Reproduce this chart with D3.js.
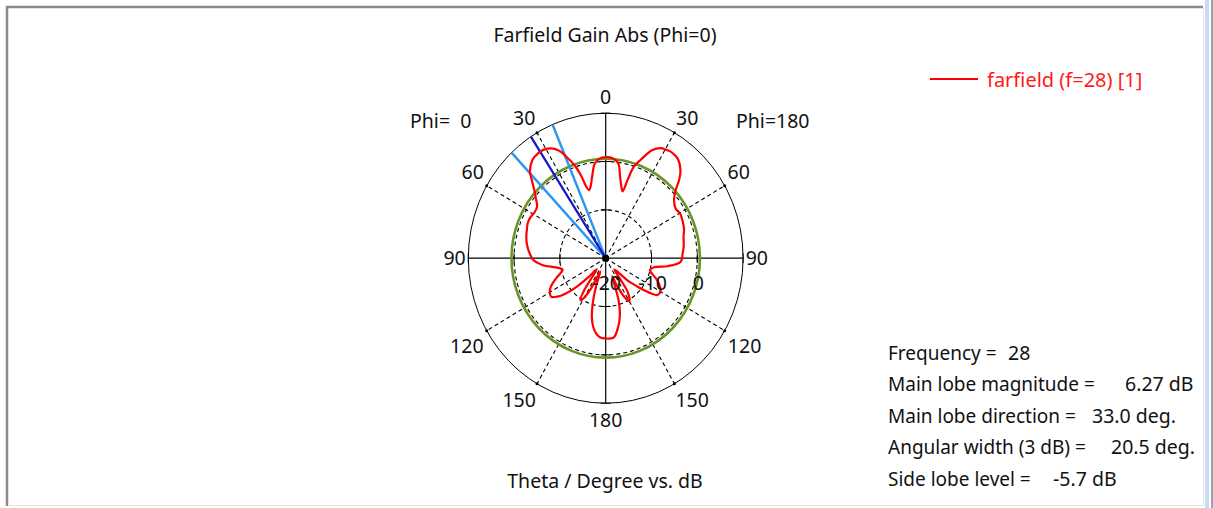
<!DOCTYPE html>
<html>
<head>
<meta charset="utf-8">
<script src="https://cdn.jsdelivr.net/npm/d3@7"></script>
<style>
html,body{margin:0;padding:0;background:#fff;}
svg{display:block;}
text{font-family:'Noto Sans','DejaVu Sans',sans-serif;font-size:19.5px;fill:#111;}
</style>
</head>
<body>
<svg id="chart" width="1213" height="508"></svg>
<script>
// ---------------- data ----------------
const chartTitle = "Farfield Gain Abs (Phi=0)";
const axisTitle = "Theta / Degree vs. dB";
const legendLabel = "farfield (f=28) [1]";
const sideLabels = ["Phi=  0", "Phi=180"];
const angleTicks = [0, 30, 60, 90, 120, 150, 180];
const dbTicks = [-20, -10, 0];
const dbDomain = [-20, 10];

// phi = 0 half (drawn on the left), theta in degrees, gain in dB
const thetaPhi0 = [0, 4, 7, 10, 12.5, 14.5, 16, 17.5, 19.5, 22.5, 24.5, 27.5, 31, 33, 35, 38, 42.5, 45, 48.5, 51, 54.5, 58.5, 63, 67, 71, 75.5, 80, 84, 88, 91, 96, 100, 104, 108, 111, 116, 120, 124, 127, 129, 133, 136, 139, 142, 145, 147.5, 150, 153, 157, 160, 162.5, 166, 169, 172, 175.5, 180];
const gainPhi0  = [0.9, 0.6, -0.3, -2.9, -4.8, -5.5, -4.6, -2.0, 0.4, 2.9, 4.4, 5.6, 6.2, 6.27, 6.2, 5.9, 4.5, 2.8, 0.7, -0.4, -1.6, -1.8, -1.5, -1.5, -1.8, -2.1, -2.5, -3.0, -3.6, -4.1, -6.2, -9.0, -10.3, -9.5, -8.4, -6.7, -5.9, -5.7, -6.8, -7.9, -11.3, -14.5, -17.0, -16.0, -11.5, -9.7, -10.5, -13.0, -17.0, -14.0, -11.0, -7.5, -5.6, -4.4, -3.6, -3.4];

// phi = 180 half (drawn on the right)
const thetaPhi180 = [0, 4.5, 8, 10.5, 13, 15, 16.5, 18, 20.5, 24.5, 28, 30, 32.5, 34, 37.5, 42, 44.7, 47.3, 51, 56, 60.5, 66.5, 71, 75, 82, 87, 92.5, 97, 100, 104, 106, 112, 119, 124, 128.5, 131, 134, 137, 141, 145.5, 150, 153, 156.7, 159, 162, 165, 169, 174, 180];
const gainPhi180  = [0.9, 0.7, -0.2, -2.8, -4.8, -5.7, -3.0, -0.1, 1.7, 4.6, 5.8, 6.0, 6.2, 6.2, 5.9, 4.4, 2.8, 0.8, -0.8, -1.6, -1.3, -1.6, -1.9, -2.4, -2.8, -3.2, -3.6, -6.4, -9.3, -10.0, -9.8, -7.9, -6.3, -6.4, -9.4, -11.5, -13.5, -16.0, -17.0, -11.5, -9.7, -11.0, -14.0, -16.0, -11.0, -8.0, -5.6, -3.5, -3.4];

// results
const frequency = 28;
const mainLobeMagnitude = 6.27;   // dB
const mainLobeDirection = 33.0;   // deg (phi = 0 side)
const angularWidth = 20.5;        // deg (3 dB)
const sideLobeLevel = -5.7;       // dB
const infoLabels = ["Frequency =", "Main lobe magnitude =", "Main lobe direction =", "Angular width (3 dB) =", "Side lobe level ="];
const infoValues = [String(frequency), mainLobeMagnitude.toFixed(2) + " dB", mainLobeDirection.toFixed(1) + " deg.", angularWidth.toFixed(1) + " deg.", sideLobeLevel.toFixed(1) + " dB"];

// ---------------- layout ----------------
const svg = d3.select("#chart");
const cx = 605.7, cy = 258.2, Rx = 137.4, Ry = 145;
const rScale = d3.scaleLinear().domain(dbDomain).range([0, 1]);
const xS = d3.scaleLinear().domain([-1, 1]).range([cx - Rx, cx + Rx]);
const yS = d3.scaleLinear().domain([-1, 1]).range([cy + Ry, cy - Ry]);
const rad = d => d * Math.PI / 180;
// screen angle measured clockwise from the top (theta=0)
const pt = (ang, u) => [xS(u * Math.sin(rad(ang))), yS(u * Math.cos(rad(ang)))];

// frame
svg.append("rect").attr("x", 0).attr("y", 0).attr("width", 1213).attr("height", 508).attr("fill", "#fff");
svg.append("line").attr("x1", 6).attr("x2", 1203).attr("y1", 7).attr("y2", 7).attr("stroke", "#8a8a8a").attr("stroke-width", 2.5);
svg.append("line").attr("x1", 7).attr("x2", 7).attr("y1", 6).attr("y2", 506).attr("stroke", "#8a8a8a").attr("stroke-width", 2.5);
svg.append("line").attr("x1", 8).attr("x2", 1203).attr("y1", 505.5).attr("y2", 505.5).attr("stroke", "#e4e4e4").attr("stroke-width", 1);
svg.append("line").attr("x1", 1203.5).attr("x2", 1203.5).attr("y1", 8).attr("y2", 506).attr("stroke", "#e4e4e4").attr("stroke-width", 1);
svg.append("rect").attr("x", 1205).attr("y", 0).attr("width", 4).attr("height", 508).attr("fill", "#c9dcf2");
svg.append("rect").attr("x", 1211).attr("y", 0).attr("width", 2).attr("height", 508).attr("fill", "#9aa4b0");

const g = svg.append("g");

// dashed rings
const ringLevels = [-10, 0];
g.selectAll("ellipse.ring").data(ringLevels).enter().append("ellipse")
  .attr("cx", cx).attr("cy", cy)
  .attr("rx", d => xS(rScale(d)) - cx).attr("ry", d => cy - yS(rScale(d)))
  .attr("fill", "none").attr("stroke", "#000").attr("stroke-width", 1.1).attr("stroke-dasharray", "4,3");

// dashed spokes
const spokeAngles = [30, 60, 120, 150].flatMap(a => [a, -a]);
g.selectAll("line.spoke").data(spokeAngles).enter().append("line")
  .attr("x1", cx).attr("y1", cy)
  .attr("x2", d => pt(d, 1)[0]).attr("y2", d => pt(d, 1)[1])
  .attr("stroke", "#000").attr("stroke-width", 1.1).attr("stroke-dasharray", "4,3");

// outer circle
g.append("ellipse").attr("cx", cx).attr("cy", cy).attr("rx", Rx).attr("ry", Ry)
  .attr("fill", "none").attr("stroke", "#000").attr("stroke-width", 1);
// small marks where spokes meet the outer circle
g.selectAll("circle.mark").data(spokeAngles).enter().append("circle")
  .attr("cx", d => pt(d, 1)[0]).attr("cy", d => pt(d, 1)[1]).attr("r", 1.5).attr("fill", "#000");

// solid axes
g.append("line").attr("x1", xS(-1)).attr("x2", xS(1)).attr("y1", cy).attr("y2", cy).attr("stroke", "#000").attr("stroke-width", 1.2);
g.append("line").attr("x1", cx).attr("x2", cx).attr("y1", yS(1)).attr("y2", yS(-1)).attr("stroke", "#000").attr("stroke-width", 1.2);

// small ticks at ring levels on the axes
const tickLevels = [-10, 0, 10];
tickLevels.forEach(l => {
  const u = rScale(l);
  g.append("line").attr("x1", xS(u)).attr("x2", xS(u)).attr("y1", cy - 5).attr("y2", cy + 5).attr("stroke", "#000");
  g.append("line").attr("x1", xS(-u)).attr("x2", xS(-u)).attr("y1", cy - 5).attr("y2", cy + 5).attr("stroke", "#000");
  g.append("line").attr("x1", cx - 5).attr("x2", cx + 5).attr("y1", yS(u)).attr("y2", yS(u)).attr("stroke", "#000");
  g.append("line").attr("x1", cx - 5).attr("x2", cx + 5).attr("y1", yS(-u)).attr("y2", yS(-u)).attr("stroke", "#000");
});

// side lobe level circle (green)
const sllLevel = mainLobeMagnitude + sideLobeLevel;
g.append("ellipse").attr("cx", cx).attr("cy", cy)
  .attr("rx", xS(rScale(sllLevel)) - cx).attr("ry", cy - yS(rScale(sllLevel)))
  .attr("fill", "none").attr("stroke", "#6b9428").attr("stroke-width", 2.6);

// beam lines
const beam = [
  {a: -(mainLobeDirection - angularWidth / 2), c: "#2a96ee", w: 2.4},
  {a: -(mainLobeDirection + angularWidth / 2), c: "#2a96ee", w: 2.4},
  {a: -mainLobeDirection, c: "#1414c8", w: 2.2}
];
g.selectAll("line.beam").data(beam).enter().append("line")
  .attr("x1", cx).attr("y1", cy)
  .attr("x2", d => pt(d.a, 1)[0]).attr("y2", d => pt(d.a, 1)[1])
  .attr("stroke", d => d.c).attr("stroke-width", d => d.w);

// pattern curve (closed: phi=0 on the left, phi=180 on the right)
const pts = [];
thetaPhi0.forEach((t, i) => pts.push(pt(-t, rScale(gainPhi0[i]))));
for (let i = thetaPhi180.length - 2; i > 0; i--) pts.push(pt(thetaPhi180[i], rScale(gainPhi180[i])));
g.append("path").attr("d", d3.line().curve(d3.curveCatmullRomClosed.alpha(0.5))(pts))
  .attr("fill", "none").attr("stroke", "#ff0000").attr("stroke-width", 2.2).attr("stroke-linejoin", "round");

// center dot
g.append("circle").attr("cx", cx).attr("cy", cy).attr("r", 3.5).attr("fill", "#000");

// angle labels, placed just outside the outer circle
const labelOffset = t => {           // radial placement factors (x, y) per label
  if (t === 0 || t === 180) return [1, 1.113];
  if (t === 90) return [1.10, 1];
  if (t === 30) return [1.186, 1.115];
  if (t === 60) return [1.118, 1.186];
  if (t === 120) return [1.167, 1.214];
  return [1.259, 1.129];
};
const angLab = [];
angleTicks.forEach(a => {
  angLab.push({a: -a, t: a});
  if (a !== 0 && a !== 180) angLab.push({a: a, t: a});
});
g.selectAll("text.ang").data(angLab).enter().append("text")
  .attr("x", d => xS(labelOffset(d.t)[0] * Math.sin(rad(d.a))))
  .attr("y", d => yS(labelOffset(d.t)[1] * Math.cos(rad(d.a))) + 7)
  .attr("text-anchor", "middle").text(d => d.t);

// dB labels
g.selectAll("text.db").data(dbTicks).enter().append("text")
  .attr("x", d => xS(rScale(d)) + 1).attr("y", cy + 32)
  .attr("text-anchor", "middle").text(d => d);

// side labels
svg.append("text").attr("x", 410).attr("y", 128).attr("xml:space", "preserve").style("white-space", "pre").text(sideLabels[0]);
svg.append("text").attr("x", 736).attr("y", 128).text(sideLabels[1]);

// titles
svg.append("text").attr("x", 605).attr("y", 42).attr("text-anchor", "middle").text(chartTitle);
svg.append("text").attr("x", 605).attr("y", 488).attr("text-anchor", "middle").text(axisTitle);

// legend
svg.append("line").attr("x1", 930).attr("x2", 978).attr("y1", 79).attr("y2", 79).attr("stroke", "#ff0000").attr("stroke-width", 2.2);
svg.append("text").attr("x", 987).attr("y", 87).style("fill", "#ff1a1a").style("font-size", "20px").text(legendLabel);

// info box
const valueX = [1008, 1125, 1092, 1111, 1053];
infoLabels.forEach((l, i) => {
  const y = 360 + i * 31.4;
  svg.append("text").attr("x", 888).attr("y", y).style("font-size", "19px").text(l);
  svg.append("text").attr("x", valueX[i]).attr("y", y).text(infoValues[i]);
});
</script>
</body>
</html>
